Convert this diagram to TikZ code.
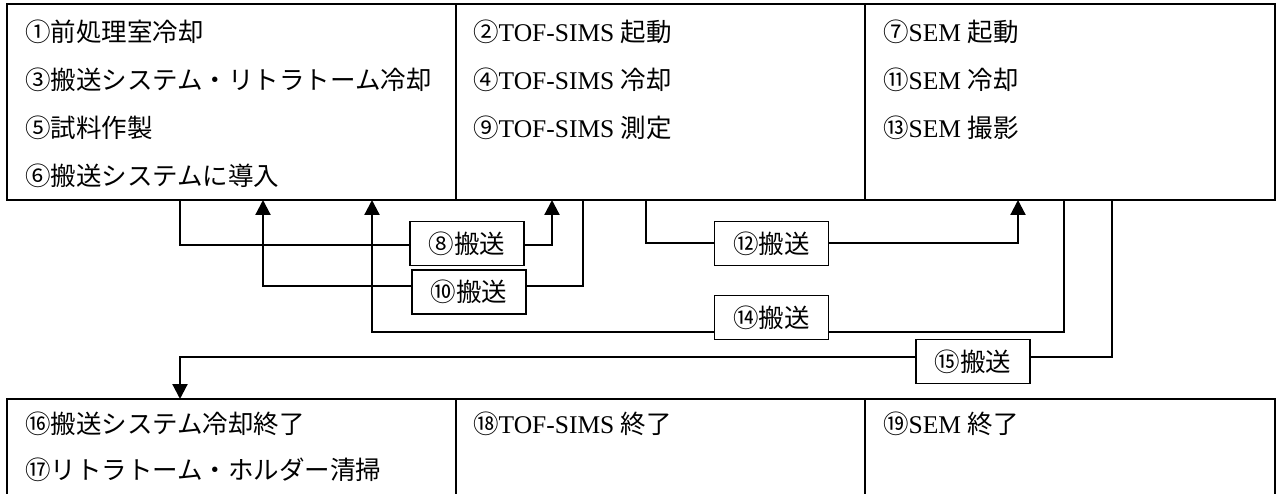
\documentclass[tikz,border=0pt]{standalone}
\usepackage{fontspec}
\setmainfont{Liberation Serif}
\newfontfamily\cjk{Noto Sans CJK JP}
\usetikzlibrary{arrows.meta}
\newcommand\Jp[1]{{\cjk #1}}
\begin{document}
\begin{tikzpicture}[x=1pt,y=-1pt,
  box/.style={draw, line width=1.8pt, inner sep=0pt, outer sep=0pt, anchor=north west},
  lbl/.style={draw, line width=1.8pt, fill=white, inner sep=0pt, outer sep=0pt, minimum width=114pt, minimum height=44pt, font=\fontsize{25.5pt}{30pt}\selectfont},
  txt/.style={anchor=base west, inner sep=0pt, font=\fontsize{25.5pt}{30pt}\selectfont},
  conn/.style={line width=2.2pt},
  arr/.style={conn, -{Triangle[length=15pt,width=15pt]}}]
\clip (0,0) rectangle (1277,494);
\fill[white] (0,0) rectangle (1277,494);
% main boxes
\node[box, minimum width=449pt, minimum height=196pt] (A) at (7,4) {};
\node[box, minimum width=409pt, minimum height=196pt] (B) at (456,4) {};
\node[box, minimum width=410pt, minimum height=196pt] (C) at (865,4) {};
\node[box, minimum width=449pt, minimum height=120pt] (D) at (7,399) {};
\node[box, minimum width=409pt, minimum height=120pt] (E) at (456,399) {};
\node[box, minimum width=410pt, minimum height=120pt] (F) at (865,399) {};
% texts
\node[txt] (t1) at (25,42) {\Jp{①前処理室冷却}};
\node[txt] (t3) at (25,90) {\Jp{③搬送システム・リトラトーム冷却}};
\node[txt] (t5) at (25,138) {\Jp{⑤試料作製}};
\node[txt] (t6) at (25,186) {\Jp{⑥搬送システムに導入}};
\node[txt] (t2) at (473,42) {\Jp{②}TOF-SIMS \Jp{起動}};
\node[txt] (t4) at (473,90) {\Jp{④}TOF-SIMS \Jp{冷却}};
\node[txt] (t9) at (473,138) {\Jp{⑨}TOF-SIMS \Jp{測定}};
\node[txt] (t7) at (883,42) {\Jp{⑦}SEM \Jp{起動}};
\node[txt] (t11) at (883,90) {\Jp{⑪}SEM \Jp{冷却}};
\node[txt] (t13) at (883,138) {\Jp{⑬}SEM \Jp{撮影}};
\node[txt] (t16) at (25,433) {\Jp{⑯搬送システム冷却終了}};
\node[txt] (t17) at (25,479) {\Jp{⑰リトラトーム・ホルダー清掃}};
\node[txt] (t18) at (473,433) {\Jp{⑱}TOF-SIMS \Jp{終了}};
\node[txt] (t19) at (883,433) {\Jp{⑲}SEM \Jp{終了}};
% label boxes
\node[lbl] (L8) at (467,243.5) {\Jp{⑧搬送}};
\node[lbl] (L10) at (469,292) {\Jp{⑩搬送}};
\node[lbl] (L12) at (771.5,243.5) {\Jp{⑫搬送}};
\node[lbl] (L14) at (771.5,317.5) {\Jp{⑭搬送}};
\node[lbl] (L15) at (973,361.5) {\Jp{⑮搬送}};
% bend coordinates
\coordinate (p8a) at (180,245);
\coordinate (p8b) at (552,245);
\coordinate (p10a) at (583,286);
\coordinate (p10b) at (263,286);
\coordinate (p12a) at (646,243);
\coordinate (p12b) at (1018,243);
\coordinate (p14a) at (1064,332);
\coordinate (p14b) at (372,332);
\coordinate (p15a) at (1112,357);
\coordinate (p15b) at (180,357);
% connectors
\draw[conn] (A.south -| p8a) |- (L8.west |- p8a);
\draw[arr] (L8.east |- p8b) -| (B.south -| p8b);
\draw[conn] (B.south -| p10a) |- (L10.east |- p10a);
\draw[arr] (L10.west |- p10b) -| (A.south -| p10b);
\draw[conn] (B.south -| p12a) |- (L12.west |- p12a);
\draw[arr] (L12.east |- p12b) -| (C.south -| p12b);
\draw[conn] (C.south -| p14a) |- (L14.east |- p14a);
\draw[arr] (L14.west |- p14b) -| (A.south -| p14b);
\draw[conn] (C.south -| p15a) |- (L15.east |- p15a);
\draw[arr] (L15.west |- p15b) -| (D.north -| p15b);
\end{tikzpicture}
\end{document}
